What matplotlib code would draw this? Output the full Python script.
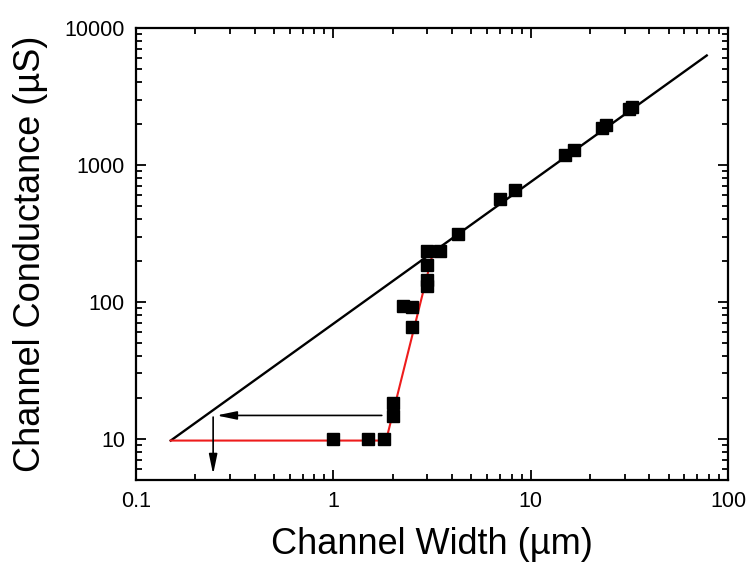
import matplotlib.pyplot as plt
from matplotlib.ticker import FixedLocator, FixedFormatter, LogLocator, NullFormatter

plt.rcParams["font.family"] = ["Liberation Sans", "DejaVu Sans"]

# measured points
width_um = [1.0, 1.5, 1.8, 2.0, 2.0, 2.26, 2.49, 2.49, 2.97, 2.97, 2.97, 2.97,
            3.47, 4.27, 7.0, 8.34, 14.9, 16.5, 22.9, 24.0, 31.5, 32.5]
cond_us = [10, 10, 10, 14.7, 18.3, 93.5, 92, 66, 130, 145, 186, 235,
           235, 313, 565, 656, 1183, 1285, 1850, 1960, 2550, 2640]

# linear fit (black) and threshold guide (red)
fit_x = [0.15, 78]
fit_y = [9.7, 6300]
red_x = [0.15, 1.85, 3.2]
red_y = [9.7, 9.7, 230]

# arrows (start, end)
harrow = ((1.76, 14.8), (0.256, 14.8))
varrow = ((0.246, 14.4), (0.246, 5.5))

xticks = [0.1, 1, 10, 100]
xticklabels = ["0.1", "1", "10", "100"]
yticks = [10, 100, 1000, 10000]
yticklabels = ["10", "100", "1000", "10000"]

fig = plt.figure(figsize=(7.48, 5.66), dpi=100)
ax = fig.add_axes([0.1818, 0.152, 0.7915, 0.7985])

ax.plot(fit_x, fit_y, color="black", lw=1.7, zorder=2)
ax.plot(red_x, red_y, color="#ee1c1c", lw=1.5, zorder=2)
ax.plot(width_um, cond_us, ls="none", marker="s", ms=8, color="black", zorder=3)

for (x0, y0), (x1, y1) in (harrow, varrow):
    ax.annotate("", xy=(x1, y1), xytext=(x0, y0),
                arrowprops=dict(arrowstyle="-|>,head_length=1.2,head_width=0.25",
                                color="black", lw=1.2, shrinkA=0, shrinkB=0))

ax.set_xscale("log")
ax.set_yscale("log")
ax.set_xlim(0.1, 100)
ax.set_ylim(5, 10000)

ax.xaxis.set_major_locator(FixedLocator(xticks))
ax.xaxis.set_major_formatter(FixedFormatter(xticklabels))
ax.yaxis.set_major_locator(FixedLocator(yticks))
ax.yaxis.set_major_formatter(FixedFormatter(yticklabels))
for axis in (ax.xaxis, ax.yaxis):
    axis.set_minor_locator(LogLocator(base=10, subs=range(2, 10), numticks=20))
    axis.set_minor_formatter(NullFormatter())

ax.tick_params(which="both", direction="in", top=True, right=True, width=1.3)
ax.tick_params(which="major", length=7, labelsize=15.5, pad=8)
ax.tick_params(which="minor", length=4)
for s in ax.spines.values():
    s.set_linewidth(1.6)

ax.set_xlabel("Channel Width (\u00b5m)", fontsize=26, labelpad=11)
ax.set_ylabel("Channel Conductance (\u00b5S)", fontsize=26, labelpad=12)

fig.savefig("out.png", dpi=100)
